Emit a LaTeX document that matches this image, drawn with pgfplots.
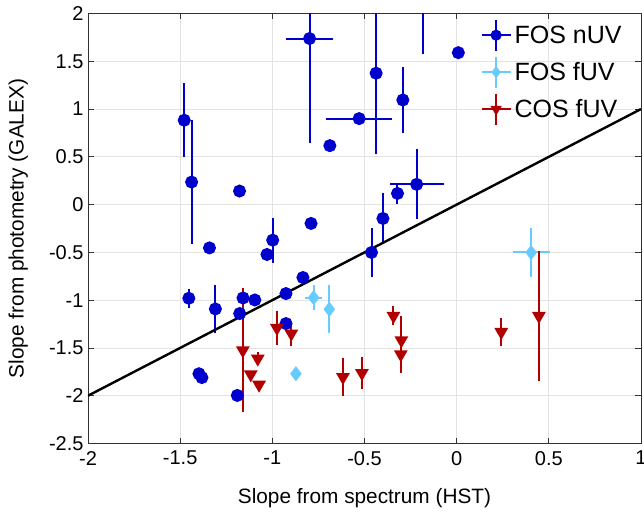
\documentclass[border=0pt]{standalone}
\usepackage{fontspec}
\setmainfont{Liberation Sans}
\usepackage{pgfplots}
\pgfplotsset{compat=1.18}
\definecolor{cnuv}{RGB}{0,0,204}
\definecolor{cfuv}{RGB}{102,204,255}
\definecolor{ccos}{RGB}{178,0,0}
\pgfplotstableread{
x y ex ey
-1.478 0.883 0 0.39
-1.438 0.236 0 0.645
-1.178 0.142 0 0.04
-0.798 1.738 0.129 1.09
-0.688 0.617 0 0
-0.529 0.900 0.178 0
-0.437 1.375 0 0.85
-0.292 1.095 0 0.35
0.009 1.590 0 0
-0.182 2.300 0 0.72
-0.217 0.212 0.146 0.365
-0.321 0.117 0 0.11
-0.400 -0.145 0 0.265
-1.341 -0.453 0 0
-0.790 -0.197 0 0
-0.998 -0.372 0 0.235
-1.029 -0.522 0 0.05
-0.834 -0.763 0 0
-0.926 -0.931 0 0
-1.453 -0.980 0 0.10
-1.309 -1.092 0 0.25
-1.159 -0.977 0 0
-1.095 -0.998 0 0
-1.177 -1.140 0 0
-0.926 -1.245 0 0.05
-0.462 -0.501 0 0.26
-1.398 -1.770 0 0
-1.382 -1.810 0 0
-1.190 -1.997 0 0
}\nuv
\pgfplotstableread{
x y ex ey
-0.776 -0.973 0.045 0.13
-0.691 -1.095 0.02 0.25
0.404 -0.501 0.10 0.26
-0.872 -1.770 0 0
}\fuv
\pgfplotstableread{
x y ex ey
-1.160 -1.525 0 0.65
-1.079 -1.612 0 0.07
-1.117 -1.777 0 0
-1.072 -1.885 0 0
-0.975 -1.291 0 0.18
-0.897 -1.350 0 0.13
-0.343 -1.165 0 0.10
-0.300 -1.420 0 0.25
-0.303 -1.567 0 0.20
-0.617 -1.805 0 0.20
-0.514 -1.763 0 0.17
0.242 -1.333 0 0.15
0.446 -1.165 0 0.68
}\cos
\begin{document}
\begin{tikzpicture}
\begin{axis}[
  width=553pt, height=430pt, scale only axis,
  xmin=-2, xmax=1, ymin=-2.5, ymax=2,
  xtick={-2,-1.5,...,1}, ytick={-2.5,-2,...,2},
  grid=major, grid style={black!11, line width=0.8pt},
  axis line style={black!80, line width=0.8pt},
  tick style={black!80, line width=0.8pt},
  tick align=inside, major tick length=6pt,
  /pgf/number format/assume math mode=true,
  ticklabel style={font=\fontsize{20}{24}\selectfont},
  xticklabel style={yshift=-4pt},
  yticklabel style={xshift=-1pt},
  label style={font=\fontsize{20.8}{25}\selectfont},
  xlabel={Slope from spectrum (HST)},
  ylabel={Slope from photometry (GALEX)},
  xlabel style={at={(axis description cs:0.5,-0.1395)}, anchor=base},
  ylabel style={at={(axis description cs:-0.1165,0.5)}, anchor=base},
  legend style={at={(axis description cs:0.706,0.993)}, anchor=north west, draw=none, fill=none,
    font=\fontsize{25}{30}\selectfont, row sep=4pt, inner sep=2pt,
    nodes={inner sep=3pt}},
  legend cell align=left,
  legend image code/.code={
    \draw[line width=2pt] (0pt,0pt) -- (29pt,0pt);
    \draw[line width=2pt] (14.5pt,-15.5pt) -- (14.5pt,15.5pt);
    \draw[mark repeat=2, mark phase=2, draw=none, mark size=4.5pt] plot coordinates {(0pt,0pt) (14.5pt,0pt) (29pt,0pt)};
  },
]
\addplot[cnuv, only marks, mark=*, mark size=5.5pt, line width=2pt,
  error bars/.cd, x dir=both, x explicit, y dir=both, y explicit,
  error mark=none, error bar style={line width=2pt, cnuv}]
  table[x=x, y=y, x error=ex, y error=ey] {\nuv};
\addlegendentry{FOS nUV}
\addplot[cfuv, only marks, mark=diamond*, mark size=6pt, line width=2pt,
  error bars/.cd, x dir=both, x explicit, y dir=both, y explicit,
  error mark=none, error bar style={line width=2pt, cfuv}]
  table[x=x, y=y, x error=ex, y error=ey] {\fuv};
\addlegendentry{FOS fUV}
\addplot[ccos, only marks, mark=triangle*, mark options={rotate=180}, mark size=6pt, line width=2pt,
  error bars/.cd, x dir=both, x explicit, y dir=both, y explicit,
  error mark=none, error bar style={line width=2pt, ccos}]
  table[x=x, y=y, x error=ex, y error=ey] {\cos};
\addlegendentry{COS fUV}
\addplot[black, line width=2.4pt, forget plot] coordinates {(-2,-2) (1,1)};
\end{axis}
\pgfresetboundingbox
\path ([xshift=-88pt,yshift=-67.5pt]current axis.south west) rectangle ++(644pt,511pt);
\end{tikzpicture}
\end{document}
